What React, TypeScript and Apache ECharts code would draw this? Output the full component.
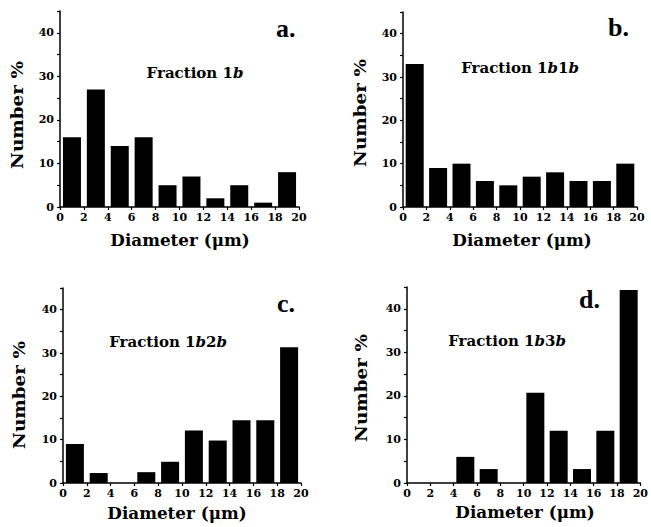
import React, { useEffect, useRef } from "react";
import * as echarts from "echarts";

const binCenters = [1, 3, 5, 7, 9, 11, 13, 15, 17, 19];
const fracA = [16, 27, 14, 16, 5, 7, 2, 5, 1, 8];
const fracB = [33, 9, 10, 6, 5, 7, 8, 6, 6, 10];
const fracC = [9, 2.3, 0, 2.5, 4.9, 12.1, 9.8, 14.5, 14.5, 31.3];
const fracD = [0, 0, 6, 3.2, 0, 20.7, 12, 3.2, 12, 44.3];
const xTickValues = [0, 2, 4, 6, 8, 10, 12, 14, 16, 18, 20];
const yLabelValues = [0, 10, 20, 30, 40];
const yTickValues = [0, 5, 10, 15, 20, 25, 30, 35, 40, 45];
const panelLetters = ["a.", "b.", "c.", "d."];
const panelTitles = [
  "{n|Fraction 1}{i|b}",
  "{n|Fraction 1}{i|b}{n|1}{i|b}",
  "{n|Fraction 1}{i|b}{n|2}{i|b}",
  "{n|Fraction 1}{i|b}{n|3}{i|b}",
];
const yName = "Number %";
const xName = "Diameter (μm)";
const seriesData = [fracA, fracB, fracC, fracD];

const grids = [
  { left: 60, top: 11, width: 239, height: 196 },
  { left: 403, top: 12, width: 234, height: 195 },
  { left: 63, top: 288, width: 238, height: 195 },
  { left: 407, top: 287, width: 236, height: 196 },
];
const letterPos = [
  [276, 28],
  [608, 27],
  [277, 303],
  [579, 299],
];
const titlePos = [
  [195, 73],
  [520, 68],
  [168, 342],
  [507, 341],
];
const yNamePos = [
  [17, 115],
  [360, 113],
  [19, 395],
  [361, 388],
];
const xNamePos = [
  [180, 241],
  [522, 241],
  [177, 514],
  [525, 513],
];

const tickFont = '"DejaVu Serif", "Liberation Serif", serif';
const letterFont = '"Liberation Serif", "Times New Roman", serif';
const labelFont = '"DejaVu Serif", "Liberation Serif", serif';

export default function App() {
  const ref = useRef<HTMLDivElement>(null);
  useEffect(() => {
    if (!ref.current) return;
    const chart = echarts.init(ref.current, null, { renderer: "svg" });
    const axisLine = { show: true, onZero: false, lineStyle: { color: "#000", width: 1.5 } };
    const graphic: any[] = [];
    for (let i = 0; i < 4; i++) {
      graphic.push({
        type: "text",
        x: letterPos[i][0],
        y: letterPos[i][1],
        style: {
          text: panelLetters[i],
          font: `bold 26px ${letterFont}`,
          fill: "#000",
          align: "left",
          verticalAlign: "middle",
        },
      });
      graphic.push({
        type: "text",
        x: titlePos[i][0],
        y: titlePos[i][1],
        style: {
          text: panelTitles[i],
          align: "center",
          verticalAlign: "middle",
          fill: "#000",
          rich: {
            n: { fontFamily: labelFont, fontWeight: "bold", fontSize: 15, fill: "#000" },
            i: { fontFamily: labelFont, fontWeight: "bold", fontStyle: "italic", fontSize: 15, fill: "#000" },
          },
        },
      });
      graphic.push({
        type: "text",
        x: yNamePos[i][0],
        y: yNamePos[i][1],
        rotation: Math.PI / 2,
        scaleX: 1.15,
        style: {
          text: yName,
          font: `bold 16px ${labelFont}`,
          fill: "#000",
          align: "center",
          verticalAlign: "middle",
        },
      });
      graphic.push({
        type: "text",
        x: xNamePos[i][0],
        y: xNamePos[i][1],
        scaleX: 1.05,
        style: {
          text: xName,
          font: `bold 16px ${labelFont}`,
          fill: "#000",
          align: "center",
          verticalAlign: "middle",
        },
      });
    }
    const option: any = {
      animation: false,
      backgroundColor: "#fff",
      grid: grids.map((g) => ({ ...g, containLabel: false })),
      xAxis: grids.map((_, i) => ({
        type: "value",
        gridIndex: i,
        min: 0,
        max: 20,
        interval: 2,
        axisLine,
        axisTick: { show: true, length: 3, inside: false, lineStyle: { color: "#000", width: 1.2 }, customValues: xTickValues },
        axisLabel: {
          color: "#000",
          fontFamily: tickFont,
          fontWeight: "bold",
          fontSize: 11,
          margin: 5,
          customValues: xTickValues,
        },
        splitLine: { show: false },
      })),
      yAxis: grids.map((_, i) => ({
        type: "value",
        gridIndex: i,
        min: 0,
        max: 45,
        interval: 5,
        axisLine,
        axisTick: { show: true, length: 3, inside: false, lineStyle: { color: "#000", width: 1.2 }, customValues: yTickValues },
        axisLabel: {
          color: "#000",
          fontFamily: tickFont,
          fontWeight: "bold",
          fontSize: 11,
          margin: 6,
          customValues: yLabelValues,
        },
        splitLine: { show: false },
      })),
      series: seriesData.map((vals, i) => ({
        type: "bar",
        xAxisIndex: i,
        yAxisIndex: i,
        barWidth: 18,
        itemStyle: { color: "#000" },
        data: binCenters.map((c, k) => [c, vals[k]]),
      })),
      graphic,
    };
    chart.setOption(option);
    return () => chart.dispose();
  }, []);
  return (
    <div
      ref={ref}
      style={{ position: "fixed", left: 0, top: 0, width: 651, height: 527, background: "#fff" }}
    />
  );
}
